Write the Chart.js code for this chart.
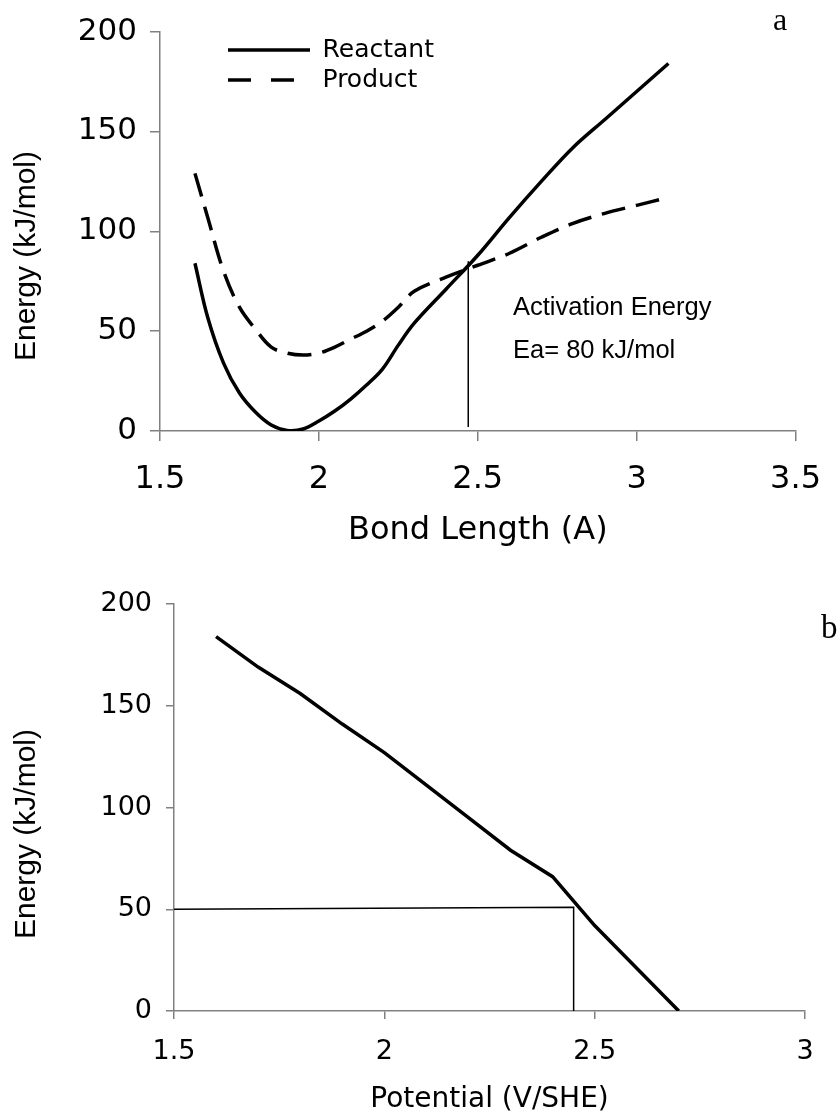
<!DOCTYPE html>
<html>
<head>
<meta charset="utf-8">
<script src="https://cdn.jsdelivr.net/npm/chart.js@4.4.0/dist/chart.umd.min.js"></script>
<style>
  html, body { margin: 0; padding: 0; background: #fff; }
  #boxA { position: absolute; left: 0; top: 0; }
  #boxB { position: absolute; left: 0; top: 560px; }
</style>
</head>
<body>
<div id="boxA"><canvas id="chartA" width="840" height="560"></canvas></div>
<div id="boxB"><canvas id="chartB" width="840" height="557"></canvas></div>
<script>
// panel a : energy vs bond length
const bondLength = [1.61, 1.65, 1.7, 1.75, 1.8, 1.85, 1.9, 1.95, 2.0, 2.05, 2.1, 2.15, 2.2, 2.25, 2.3, 2.4, 2.5, 2.6, 2.7, 2.8, 2.9, 3.0, 3.1];
const reactant   = [84, 57, 34, 19, 9.5, 3, 0.3, 1, 5, 10, 16, 23, 31, 43, 54, 71, 88, 107, 125, 142, 156, 170, 184];
const product    = [129, 107, 80, 62, 51, 42, 39, 38, 39, 42, 46, 50, 55, 62, 70, 77, 83, 89, 97, 104, 109, 113, 117];
// activation energy marker (a)
const eaLineX = [2.47, 2.47];
const eaLineY = [2, 85];
const xTicksA = [1.5, 2, 2.5, 3, 3.5];
const yTicksA = [0, 50, 100, 150, 200];

// panel b : energy vs potential
const potential = [1.6, 1.7, 1.8, 1.9, 2.0, 2.1, 2.2, 2.3, 2.4, 2.5, 2.6, 2.7];
const barrier   = [184, 169, 156, 141, 127, 111, 95, 79, 66, 42, 21, 0];
// guide lines at 50 kJ/mol (b)
const guideX = [1.5, 2.45, 2.45];
const guideY = [50, 51, 0];
const xTicksB = [1.5, 2, 2.5, 3];
const yTicksB = [0, 50, 100, 150, 200];

const pts = (xs, ys) => xs.map((x, i) => ({x: x, y: ys[i]}));
const axisGrey = '#808080';

Chart.defaults.font.family = '"DejaVu Sans", Verdana, sans-serif';
Chart.defaults.color = '#000';

// axis titles / panel letters / notes, drawn as plain text
const panelText = {
  id: 'panelText',
  afterDraw(chart, args, opts) {
    const ctx = chart.ctx;
    ctx.save();
    ctx.fillStyle = '#000';
    (opts.items || []).forEach(t => {
      ctx.save();
      ctx.font = t.font;
      ctx.textAlign = t.align || 'left';
      ctx.textBaseline = 'alphabetic';
      ctx.translate(t.x, t.y);
      if (t.rotate) ctx.rotate(t.rotate);
      ctx.fillText(t.text, 0, 0);
      ctx.restore();
    });
    ctx.restore();
  }
};

// move the legend box inside the plot
const legendSpot = {
  id: 'legendSpot',
  afterLayout(chart, args, opts) {
    if (!chart.legend || opts.left == null) return;
    chart.legend.left = opts.left;
    chart.legend.top = opts.top;
    chart.legend.bottom = chart.chartArea.bottom;
  }
};

function axis(min, max, tickVals, fit, tickLen, font, pad, title) {
  return {
    type: 'linear', min: min, max: max,
    afterBuildTicks: s => { s.ticks = tickVals.map(v => ({value: v})); },
    afterFit: fit,
    border: {display: true, color: axisGrey, width: 1.5},
    grid: {drawOnChartArea: false, drawTicks: true, tickLength: tickLen, color: axisGrey, lineWidth: 1.5},
    ticks: {color: '#000', font: {size: font}, padding: pad, maxRotation: 0, autoSkip: false, callback: v => String(v)},
    title: title
  };
}

// legend keys: solid / long dash
const legendDash = [[], [23, 20]];

// ---- panel a
new Chart(document.getElementById('chartA'), {
  type: 'scatter',
  data: {
    datasets: [
      {label: 'Reactant', data: pts(bondLength, reactant), borderColor: '#000', backgroundColor: '#000',
       borderWidth: 3.5, pointRadius: 0, showLine: true, tension: 0.35, fill: false},
      {label: 'Product', data: pts(bondLength, product), borderColor: '#000', backgroundColor: '#000',
       borderWidth: 3.5, borderDash: [24, 11], pointRadius: 0, showLine: true, tension: 0.35, fill: false},
      {label: 'Ea', data: pts(eaLineX, eaLineY), borderColor: '#000', borderWidth: 1.5, pointRadius: 0, showLine: true, fill: false}
    ]
  },
  options: {
    responsive: false, animation: false, events: [],
    layout: {padding: {left: 0, top: 29, right: 39, bottom: 0}},
    scales: {
      x: axis(1.5, 3.5, xTicksA, s => { s.height = 129; }, 10, 32, 19,
        {display: true, text: 'Bond Length (A)', color: '#000', font: {size: 32}, padding: {top: 0, bottom: 10}}),
      y: axis(0, 200, yTicksA, s => { s.width = 160; }, 10, 31, 13, {display: false})
    },
    plugins: {
      legend: {
        position: 'chartArea', align: 'start',
        labels: {
          usePointStyle: true, pointStyle: 'line', pointStyleWidth: 82,
          color: '#000', font: {size: 25}, padding: 5,
          generateLabels: chart => Chart.defaults.plugins.legend.labels.generateLabels(chart)
            .filter(item => item.datasetIndex < 2)
            .map(item => Object.assign(item, {
              lineDash: legendDash[item.datasetIndex], lineWidth: 3.5,
              strokeStyle: '#000', fillStyle: '#000', pointStyle: 'line'
            }))
        }
      },
      tooltip: {enabled: false},
      legendSpot: {left: 223, top: 32.5},
      panelText: {items: [
        {text: 'Energy (kJ/mol)', x: 35, y: 256, rotate: -Math.PI / 2, align: 'center', font: '30px "Liberation Sans", Arial, sans-serif'},
        {text: 'Activation Energy', x: 513, y: 315, font: '25.5px "Liberation Sans", Arial, sans-serif'},
        {text: 'Ea= 80 kJ/mol', x: 513, y: 358, font: '25.5px "Liberation Sans", Arial, sans-serif'},
        {text: 'a', x: 773, y: 30, font: '32px "Liberation Serif", "Times New Roman", serif'}
      ]}
    }
  },
  plugins: [legendSpot, panelText]
});

// ---- panel b
new Chart(document.getElementById('chartB'), {
  type: 'scatter',
  data: {
    datasets: [
      {label: 'Energy', data: pts(potential, barrier), borderColor: '#000', borderWidth: 3.5, pointRadius: 0, showLine: true, fill: false},
      {label: 'Guide', data: pts(guideX, guideY), borderColor: '#000', borderWidth: 1.5, pointRadius: 0, showLine: true, fill: false}
    ]
  },
  options: {
    responsive: false, animation: false, events: [],
    layout: {padding: {left: 0, top: 44, right: 35, bottom: 0}},
    scales: {
      x: axis(1.5, 3, xTicksB, s => { s.height = 106; }, 8, 27, 17,
        {display: true, text: 'Potential (V/SHE)', color: '#000', font: {size: 28}, padding: {top: 0, bottom: 0}}),
      y: axis(0, 200, yTicksB, s => { s.width = 174; }, 8, 27, 14, {display: false})
    },
    plugins: {
      legend: {display: false},
      tooltip: {enabled: false},
      panelText: {items: [
        {text: 'Energy (kJ/mol)', x: 35, y: 274, rotate: -Math.PI / 2, align: 'center', font: '30px "Liberation Sans", Arial, sans-serif'},
        {text: 'b', x: 821, y: 78, font: '33px "Liberation Serif", "Times New Roman", serif'}
      ]}
    }
  },
  plugins: [panelText]
});
</script>
</body>
</html>
